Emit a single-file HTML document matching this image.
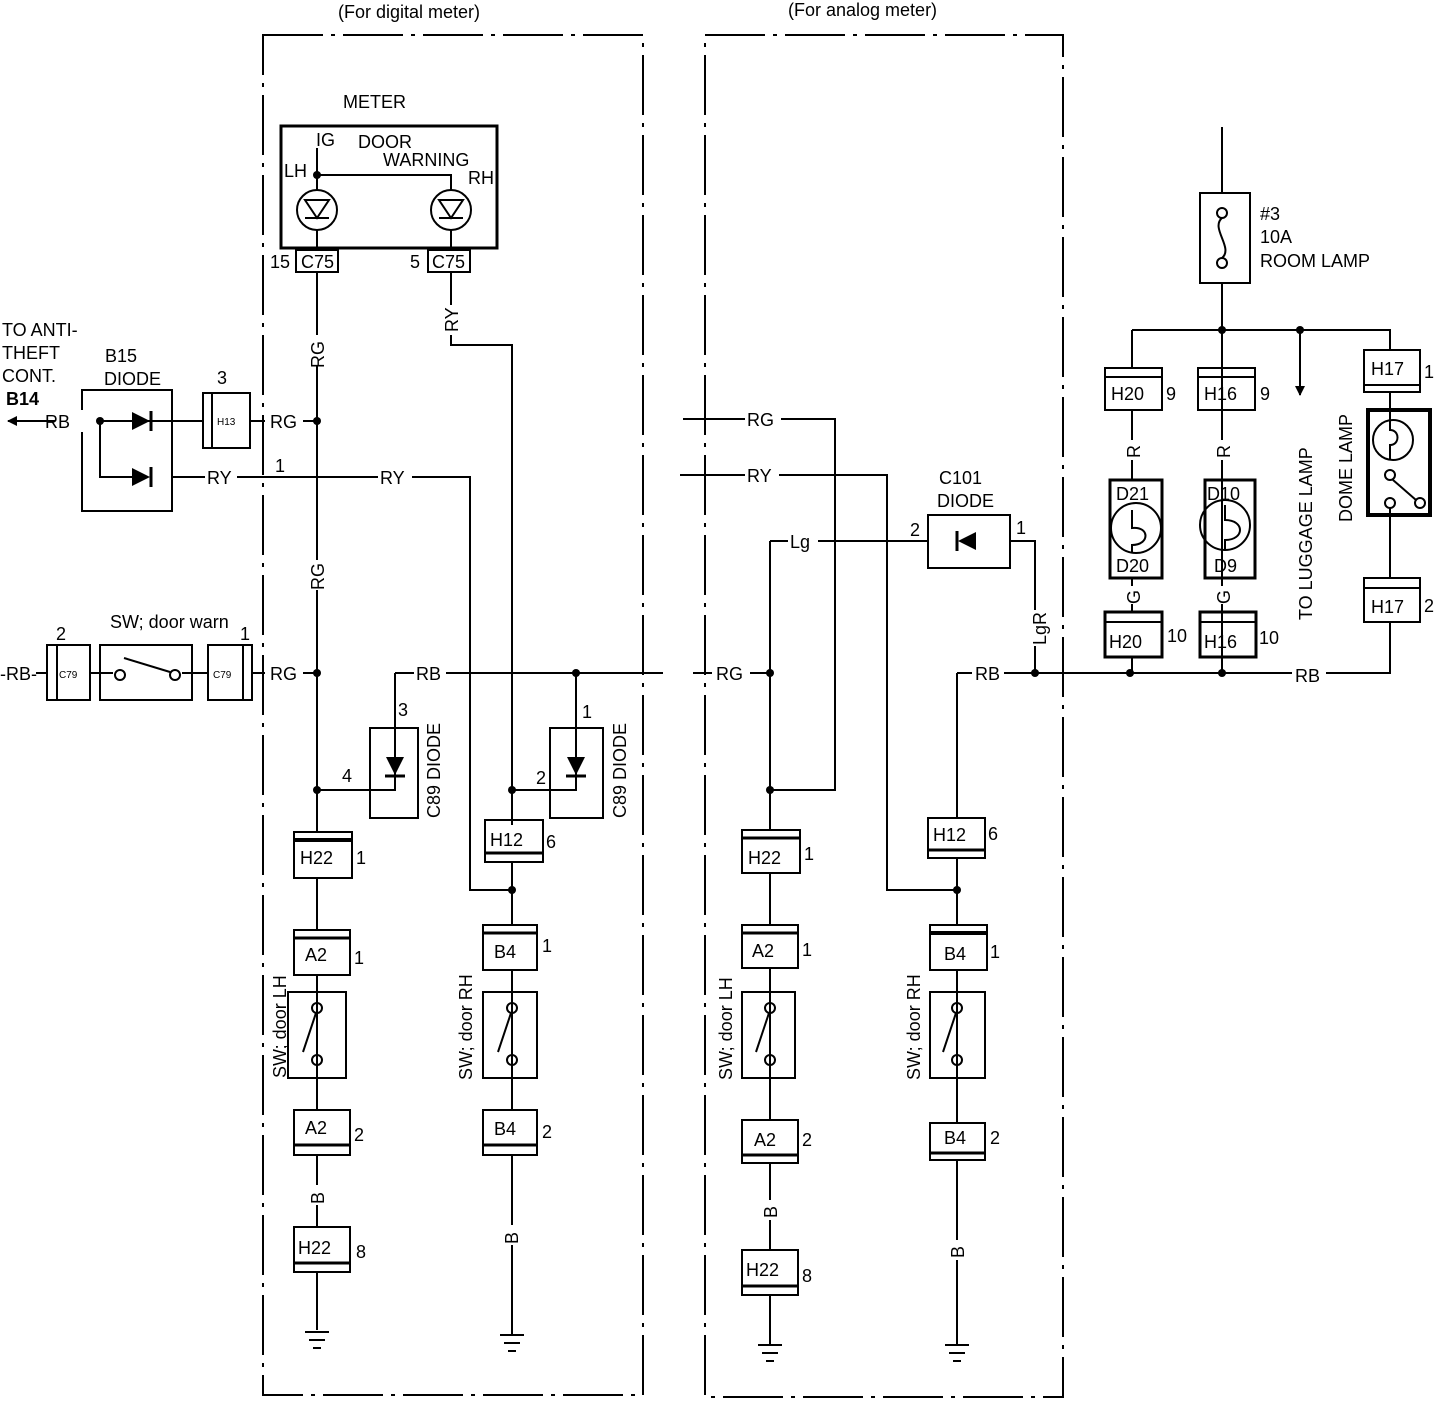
<!DOCTYPE html>
<html><head><meta charset="utf-8"><style>
html,body{margin:0;padding:0;background:#fff}
svg{display:block}
text{font-family:"Liberation Sans",sans-serif;fill:#000}
</style></head><body>
<svg width="1456" height="1402" viewBox="0 0 1456 1402" xmlns="http://www.w3.org/2000/svg">
<defs>
<marker id="ar" markerWidth="10" markerHeight="10" refX="9" refY="5" orient="auto" markerUnits="userSpaceOnUse">
<path d="M0,0 L10,5 L0,10 Z" fill="#000"/></marker>
</defs>
<g stroke="#000" stroke-width="2" fill="none">
<rect x="263" y="35" width="380" height="1360" stroke-dasharray="60,8,4,8"/>
<rect x="705" y="35" width="358" height="1362" stroke-dasharray="60,8,4,8"/>
<rect x="281" y="126" width="216" height="122" stroke-width="3"/>
<circle cx="317" cy="210" r="20"/><circle cx="451" cy="210" r="20"/>
<path d="M317 148V190M317 230V250M317 175H451V190M451 230V250"/>
<path d="M305 200H329L317 218ZM305 218H329M439 200H463L451 218ZM439 218H463" stroke-width="2"/>
<rect x="296" y="250" width="42" height="22"/><rect x="428" y="250" width="42" height="22"/>
<path d="M317 272V832M451 272V305M451 335V345H512V825"/>
<path d="M100 421H203M250 421H317M172 477H470V890H512M100 421V477H135"/>
<path d="M48 421H60"/>
<path d="M48 421H8" marker-end="url(#ar)"/>
<rect x="82" y="390" width="90" height="121"/>
<rect x="203" y="393" width="47" height="55"/><path d="M212 393V448"/>
<path d="M36 673H47M90 673H113M182 673H208M252 673H317"/>
<rect x="47" y="645" width="43" height="55"/><path d="M57 645V700"/>
<rect x="100" y="645" width="92" height="55"/>
<circle cx="120" cy="675" r="5"/><circle cx="175" cy="675" r="5"/><path d="M124 658L170 672"/>
<rect x="208" y="645" width="44" height="55"/><path d="M243 645V700"/>
<path d="M395 673H663M395 673V790H370M317 790H370M576 673V790H550M512 790H550"/>
<rect x="370" y="728" width="48" height="90"/><rect x="550" y="728" width="53" height="90"/>
<path d="M317 878V930M317 975V1110M317 1155V1227M317 1272V1330M305 1332H329M309 1340H325M313 1348H321"/>
<rect x="294" y="832" width="58" height="46"/><path d="M294 840H352" stroke-width="4"/>
<rect x="294" y="930" width="56" height="45"/><path d="M294 938H350" stroke-width="3"/>
<rect x="288" y="992" width="58" height="86"/>
<rect x="294" y="1110" width="56" height="45"/><path d="M294 1145H350" stroke-width="3"/>
<rect x="294" y="1227" width="56" height="45"/><path d="M294 1263H350" stroke-width="3"/>
<path d="M512 862V925M512 970V1110M512 1155V1335M500 1335H524M504 1343H520M508 1351H516"/>
<rect x="485" y="820" width="58" height="42"/><path d="M485 853H543" stroke-width="3"/>
<rect x="483" y="925" width="54" height="45"/><path d="M483 933H537" stroke-width="3"/>
<rect x="483" y="992" width="54" height="86"/>
<rect x="483" y="1110" width="54" height="45"/><path d="M483 1145H537" stroke-width="3"/>
<path d="M683 419H835V790H770M680 475H887V890H957M770 541H928M1010 541H1035V673M770 541V830M693 673H770M957 673H1390V622M957 673V818"/>
<rect x="928" y="515" width="82" height="53"/>
<path d="M770 873V925M770 968V1120M770 1163V1250M770 1295V1345M758 1345H782M762 1353H778M766 1361H774"/>
<rect x="742" y="830" width="58" height="43"/><path d="M742 838H800" stroke-width="3"/>
<rect x="742" y="925" width="56" height="43"/><path d="M742 933H798" stroke-width="3"/>
<rect x="742" y="992" width="53" height="86"/>
<rect x="742" y="1120" width="56" height="43"/><path d="M742 1155H798" stroke-width="3"/>
<rect x="742" y="1250" width="56" height="45"/><path d="M742 1286H798" stroke-width="3"/>
<path d="M957 858V925M957 970V1123M957 1160V1345M945 1345H969M949 1353H965M953 1361H961"/>
<rect x="928" y="818" width="57" height="40"/><path d="M928 850H985" stroke-width="3"/>
<rect x="930" y="925" width="57" height="45"/><path d="M930 933H987" stroke-width="4"/>
<rect x="930" y="992" width="55" height="86"/>
<rect x="930" y="1123" width="55" height="37"/><path d="M930 1153H985" stroke-width="3"/>
<circle cx="317" cy="1008" r="5"/><circle cx="317" cy="1060" r="5"/><path d="M317 992V1003M317 1065V1078M316 1013L303 1052"/>
<circle cx="512" cy="1008" r="5"/><circle cx="512" cy="1060" r="5"/><path d="M512 992V1003M512 1065V1078M511 1013L498 1052"/>
<circle cx="770" cy="1008" r="5"/><circle cx="770" cy="1060" r="5"/><path d="M770 992V1003M770 1065V1078M769 1013L756 1052"/>
<circle cx="957" cy="1008" r="5"/><circle cx="957" cy="1060" r="5"/><path d="M957 992V1003M957 1065V1078M956 1013L943 1052"/>
<path d="M1222 127V193M1222 283V673M1132 330H1390V350M1132 330V368M1132 410V480M1132 578V612M1132 657V673M1222 657V673M1300 330V395"/>
<path d="M1300 360V395" marker-end="url(#ar)"/>
<rect x="1200" y="193" width="50" height="90"/>
<circle cx="1222" cy="213" r="5"/><circle cx="1222" cy="263" r="5"/><path d="M1222 218C1210 228 1234 248 1222 258"/>
<rect x="1105" y="368" width="57" height="42"/><path d="M1105 377H1162"/>
<rect x="1198" y="368" width="57" height="42"/><path d="M1198 377H1255"/>
<rect x="1110" y="480" width="52" height="98" stroke-width="3"/><circle cx="1136" cy="528" r="25"/>
<rect x="1205" y="480" width="50" height="98" stroke-width="3"/><circle cx="1225" cy="525" r="25"/>
<path d="M1132 510V528C1150 526 1150 545 1132 545V553M1225 505V520C1245 520 1245 540 1225 540V550"/>
<rect x="1105" y="612" width="57" height="45" stroke-width="3"/><path d="M1105 622H1162"/>
<rect x="1200" y="612" width="56" height="45" stroke-width="3"/><path d="M1200 622H1256"/>
<rect x="1364" y="350" width="56" height="42"/><path d="M1364 385H1420"/>
<rect x="1368" y="410" width="62" height="105" stroke-width="4"/>
<circle cx="1393" cy="440" r="20"/><path d="M1390 392V430C1400 430 1400 445 1390 445V460"/>
<circle cx="1390" cy="475" r="5"/><circle cx="1390" cy="503" r="5"/><circle cx="1420" cy="503" r="5"/><path d="M1393 480L1416 500M1390 508V578M1390 622V673"/>
<rect x="1364" y="578" width="56" height="44"/><path d="M1364 588H1420"/>
</g>
<g fill="#000">
<circle cx="317" cy="175" r="4"/><circle cx="317" cy="421" r="4"/><circle cx="317" cy="673" r="4"/><circle cx="317" cy="790" r="4"/>
<circle cx="512" cy="790" r="4"/><circle cx="512" cy="890" r="4"/><circle cx="576" cy="673" r="4"/><circle cx="100" cy="421" r="4"/>
<circle cx="770" cy="673" r="4"/><circle cx="770" cy="790" r="4"/><circle cx="957" cy="890" r="4"/>
<circle cx="1035" cy="673" r="4"/><circle cx="1130" cy="673" r="4"/><circle cx="1222" cy="673" r="4"/><circle cx="1222" cy="330" r="4"/><circle cx="1300" cy="330" r="4"/>
<path d="M132 412L150 421L132 430Z"/><path d="M132 468L150 477L132 486Z"/>
<path d="M386 757H404L395 775Z"/><path d="M567 757H585L576 775Z"/>
<path d="M976 532V550L958 541Z"/>
</g>
<g stroke="#000" stroke-width="3"><path d="M151 411V431M151 467V487M385 776H405M566 776H586M957 531V551"/></g>
<g fill="#fff"><rect x="300" y="335" width="34" height="30"/><rect x="300" y="560" width="34" height="30"/><rect x="437" y="305" width="28" height="30"/>
<rect x="1020" y="610" width="30" height="36"/><rect x="1115" y="440" width="34" height="20"/><rect x="1205" y="440" width="34" height="20"/><rect x="1115" y="586" width="34" height="18"/><rect x="1205" y="586" width="34" height="18"/>
<rect x="302" y="1185" width="30" height="20"/><rect x="497" y="1225" width="30" height="20"/><rect x="755" y="1200" width="30" height="20"/><rect x="942" y="1240" width="30" height="20"/>
<rect x="55" y="410" width="30" height="22"/><rect x="265" y="410" width="38" height="22"/><rect x="205" y="466" width="32" height="22"/><rect x="378" y="466" width="34" height="22"/>
<rect x="265" y="662" width="38" height="22"/><rect x="414" y="662" width="32" height="22"/><rect x="712" y="662" width="38" height="22"/><rect x="972" y="662" width="32" height="22"/><rect x="1292" y="662" width="34" height="22"/>
<rect x="745" y="408" width="36" height="22"/><rect x="745" y="464" width="34" height="22"/><rect x="788" y="530" width="30" height="22"/><rect x="12" y="662" width="24" height="22"/></g>
<g font-size="18">
<text x="338" y="18">(For digital meter)</text>
<text x="788" y="16">(For analog meter)</text>
<text x="343" y="108">METER</text>
<text x="316" y="146">IG</text><text x="358" y="148">DOOR</text><text x="383" y="166">WARNING</text>
<text x="284" y="177">LH</text><text x="468" y="184">RH</text>
<text x="270" y="268">15</text><text x="301" y="268">C75</text><text x="410" y="268">5</text><text x="432" y="268">C75</text>
<text x="2" y="336">TO ANTI-</text><text x="2" y="359">THEFT</text><text x="2" y="382">CONT.</text><text x="6" y="405" font-weight="bold">B14</text>
<text x="105" y="362">B15</text><text x="104" y="385">DIODE</text>
<text x="217" y="384">3</text><text x="217" y="425" font-size="10">H13</text>
<text x="45" y="428">RB</text><text x="270" y="428">RG</text><text x="207" y="484">RY</text><text x="275" y="472">1</text><text x="380" y="484">RY</text>
<text x="110" y="628">SW; door warn</text><text x="56" y="640">2</text><text x="240" y="640">1</text>
<text x="0" y="680">-RB-</text><text x="59" y="678" font-size="10">C79</text><text x="213" y="678" font-size="10">C79</text>
<text x="270" y="680">RG</text><text x="416" y="680">RB</text>
<text x="398" y="716">3</text><text x="342" y="782">4</text><text x="582" y="718">1</text><text x="536" y="784">2</text>
<text x="300" y="864">H22</text><text x="356" y="864">1</text>
<text x="305" y="961">A2</text><text x="354" y="964">1</text>
<text x="305" y="1134">A2</text><text x="354" y="1141">2</text>
<text x="298" y="1254">H22</text><text x="356" y="1258">8</text>
<text x="490" y="846">H12</text><text x="546" y="848">6</text>
<text x="494" y="958">B4</text><text x="542" y="952">1</text>
<text x="494" y="1135">B4</text><text x="542" y="1138">2</text>
<text x="747" y="426">RG</text><text x="747" y="482">RY</text><text x="790" y="548">Lg</text>
<text x="939" y="484">C101</text><text x="937" y="507">DIODE</text>
<text x="910" y="536">2</text><text x="1016" y="534">1</text>
<text x="716" y="680">RG</text><text x="975" y="680">RB</text><text x="1295" y="682">RB</text>
<text x="748" y="864">H22</text><text x="804" y="860">1</text>
<text x="752" y="957">A2</text><text x="802" y="956">1</text>
<text x="754" y="1146">A2</text><text x="802" y="1146">2</text>
<text x="746" y="1276">H22</text><text x="802" y="1282">8</text>
<text x="933" y="841">H12</text><text x="988" y="840">6</text>
<text x="944" y="960">B4</text><text x="990" y="958">1</text>
<text x="944" y="1144">B4</text><text x="990" y="1144">2</text>
<text x="1260" y="220">#3</text><text x="1260" y="243">10A</text><text x="1260" y="267">ROOM LAMP</text>
<text x="1111" y="400">H20</text><text x="1166" y="400">9</text>
<text x="1204" y="400">H16</text><text x="1260" y="400">9</text>
<text x="1116" y="500">D21</text><text x="1116" y="572">D20</text>
<text x="1207" y="500">D10</text><text x="1214" y="572">D9</text>
<text x="1109" y="648">H20</text><text x="1167" y="642">10</text>
<text x="1204" y="648">H16</text><text x="1259" y="644">10</text>
<text x="1371" y="375">H17</text><text x="1424" y="378">1</text>
<text x="1371" y="613">H17</text><text x="1424" y="612">2</text>
</g>
<g font-size="18">
<text transform="translate(324,368) rotate(-90)">RG</text>
<text transform="translate(324,590) rotate(-90)">RG</text>
<text transform="translate(458,332) rotate(-90)">RY</text>
<text transform="translate(1046,645) rotate(-90)">LgR</text>
<text transform="translate(1140,458) rotate(-90)">R</text>
<text transform="translate(1230,458) rotate(-90)">R</text>
<text transform="translate(1140,604) rotate(-90)">G</text>
<text transform="translate(1230,604) rotate(-90)">G</text>
<text transform="translate(324,1204) rotate(-90)">B</text>
<text transform="translate(518,1244) rotate(-90)">B</text>
<text transform="translate(777,1218) rotate(-90)">B</text>
<text transform="translate(964,1258) rotate(-90)">B</text>
<text transform="translate(440,818) rotate(-90)">C89 DIODE</text>
<text transform="translate(626,818) rotate(-90)">C89 DIODE</text>
<text transform="translate(286,1078) rotate(-90)">SW; door LH</text>
<text transform="translate(472,1080) rotate(-90)">SW; door RH</text>
<text transform="translate(732,1080) rotate(-90)">SW; door LH</text>
<text transform="translate(920,1080) rotate(-90)">SW; door RH</text>
<text transform="translate(1312,620) rotate(-90)">TO LUGGAGE LAMP</text>
<text transform="translate(1352,522) rotate(-90)">DOME LAMP</text>
</g>
</svg>
</body></html>
